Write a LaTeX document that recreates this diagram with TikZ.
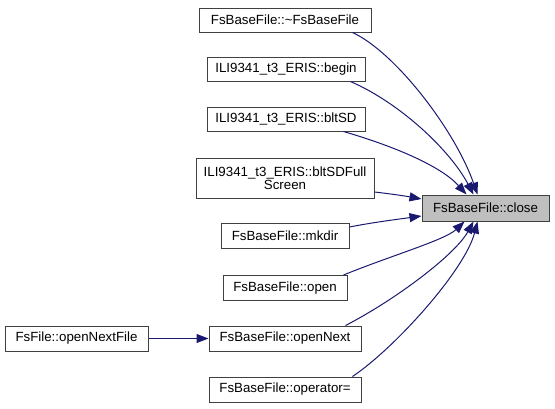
\documentclass[tikz,border=0pt]{standalone}
\usepackage{fontspec}
\setmainfont{Liberation Sans}
\usetikzlibrary{arrows.meta}
\definecolor{edgeblue}{HTML}{191970}
\definecolor{boxline}{HTML}{404040}
\definecolor{boxgrey}{HTML}{BFBFBF}
\tikzset{
  fbox/.style={draw=boxline, line width=1pt, fill=white, inner sep=0pt, minimum height=25pt,
    font=\fontsize{13.3}{15}\selectfont, align=center},
  curbox/.style={fbox, fill=boxgrey},
  edge/.style={draw=edgeblue, line width=1pt, -{Triangle[length=12pt,width=9pt]}}
}
\begin{document}
\begin{tikzpicture}[x=1pt,y=-1pt]
\useasboundingbox (0,0) rectangle (555,408);
\node[curbox, minimum width=127pt, minimum height=26pt] (close) at (485.5,208) {FsBaseFile::close};
\node[fbox, minimum width=172pt, minimum height=24pt] (n1) at (285,20) {FsBaseFile::\textasciitilde FsBaseFile};
\node[fbox, minimum width=158pt, minimum height=24pt] (n2) at (286,69) {ILI9341\_t3\_ERIS::begin};
\node[fbox, minimum width=158pt, minimum height=24pt] (n3) at (286,119) {ILI9341\_t3\_ERIS::bltSD};
\node[fbox, minimum width=178pt, minimum height=40pt] (n4) at (285,178) {ILI9341\_t3\_ERIS::bltSDFull\\[-2pt]Screen};
\node[fbox, minimum width=128pt] (n5) at (285,236) {FsBaseFile::mkdir};
\node[fbox, minimum width=124pt] (n6) at (285,288) {FsBaseFile::open};
\node[fbox, minimum width=152pt] (n7) at (285,338.5) {FsBaseFile::openNext};
\node[fbox, minimum width=152pt] (n8) at (285,389.5) {FsBaseFile::operator=};
\node[fbox, minimum width=143pt] (n9) at (76.5,338.5) {FsFile::openNextFile};

\draw[edge] ([xshift=-19pt]n1.south east) .. controls (395,52) and (455,130) .. ([xshift=56pt]close.north west);
\draw[edge] ([xshift=-15pt]n2.south east) .. controls (400,103) and (450,150) .. ([xshift=52pt]close.north west);
\draw[edge] ([xshift=-22pt]n3.south east) .. controls (390,145) and (440,165) .. ([xshift=45pt]close.north west);
\draw[edge] ([yshift=-14pt]n4.east) .. controls (392,194) and (405,196) .. ([yshift=9pt]close.west);
\draw[edge] ([yshift=9pt]n5.east) .. controls (375,222) and (400,219) .. ([yshift=-8pt]close.west);
\draw[edge] ([xshift=-4pt]n6.north east) .. controls (390,256) and (445,240) .. ([xshift=43pt]close.south west);
\draw[edge] ([xshift=-16pt]n7.north east) .. controls (395,300) and (455,255) .. ([xshift=52pt]close.south west);
\draw[edge] ([xshift=-9pt]n8.north east) .. controls (395,348) and (465,270) .. ([xshift=56pt]close.south west);
\draw[edge] (n9.east) -- (n7.west);
\end{tikzpicture}
\end{document}
